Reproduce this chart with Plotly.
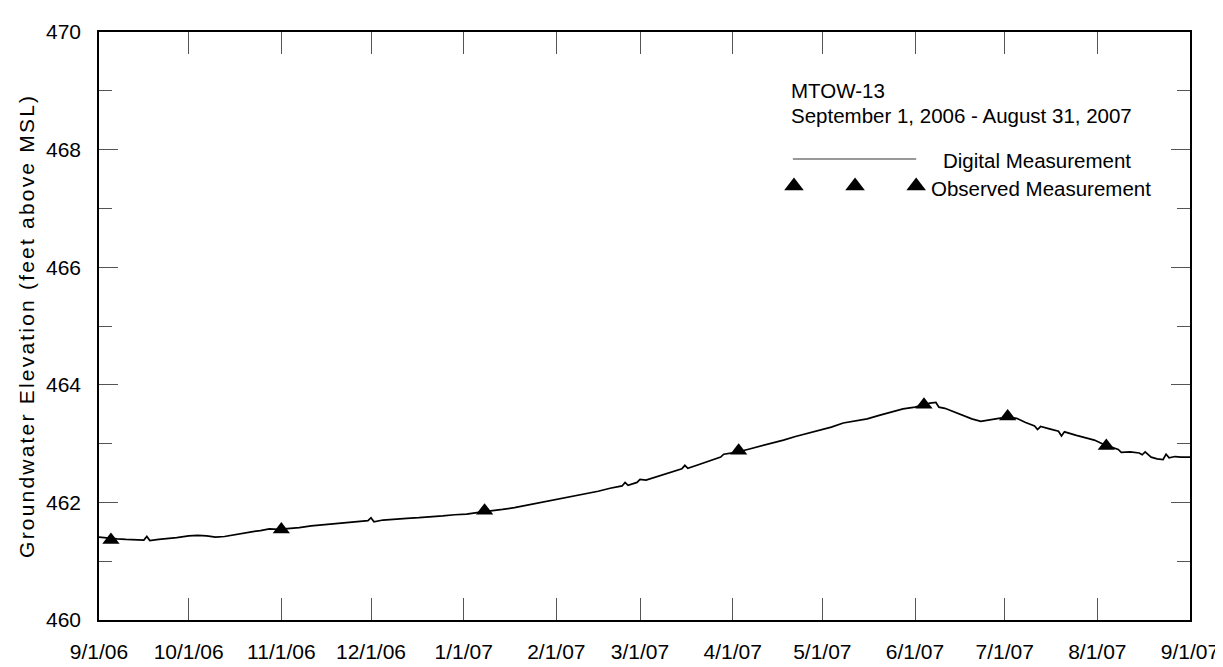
import plotly.graph_objects as go

digital_dates = [
    "2006-09-01", "2006-09-04", "2006-09-07", "2006-09-10", "2006-09-13", "2006-09-16",
    "2006-09-17", "2006-09-18", "2006-09-21", "2006-09-24", "2006-09-27", "2006-10-01",
    "2006-10-04", "2006-10-07", "2006-10-10", "2006-10-13", "2006-10-16", "2006-10-19",
    "2006-10-22", "2006-10-25", "2006-10-28", "2006-10-31", "2006-11-03", "2006-11-07",
    "2006-11-11", "2006-11-15", "2006-11-19", "2006-11-23", "2006-11-27", "2006-11-30",
    "2006-12-01", "2006-12-02", "2006-12-05", "2006-12-09", "2006-12-13", "2006-12-17",
    "2006-12-21", "2006-12-25", "2006-12-29", "2007-01-02", "2007-01-06", "2007-01-10",
    "2007-01-14", "2007-01-18", "2007-01-22", "2007-01-26", "2007-01-30", "2007-02-03",
    "2007-02-07", "2007-02-11", "2007-02-15", "2007-02-19", "2007-02-23", "2007-02-24",
    "2007-02-25", "2007-02-28", "2007-03-01", "2007-03-03", "2007-03-07", "2007-03-11",
    "2007-03-15", "2007-03-16", "2007-03-17", "2007-03-21", "2007-03-25", "2007-03-28",
    "2007-03-29", "2007-04-02", "2007-04-06", "2007-04-10", "2007-04-14", "2007-04-18",
    "2007-04-22", "2007-04-26", "2007-04-30", "2007-05-04", "2007-05-08", "2007-05-12",
    "2007-05-16", "2007-05-20", "2007-05-24", "2007-05-28", "2007-06-01", "2007-06-04",
    "2007-06-06", "2007-06-08", "2007-06-09", "2007-06-11", "2007-06-14", "2007-06-17",
    "2007-06-20", "2007-06-23", "2007-06-26", "2007-06-29", "2007-07-02", "2007-07-05",
    "2007-07-08", "2007-07-11", "2007-07-12", "2007-07-13", "2007-07-16", "2007-07-19",
    "2007-07-20", "2007-07-21", "2007-07-25", "2007-07-28", "2007-07-31", "2007-08-03",
    "2007-08-06", "2007-08-08", "2007-08-09", "2007-08-12", "2007-08-15", "2007-08-16",
    "2007-08-17", "2007-08-19", "2007-08-21", "2007-08-23", "2007-08-24", "2007-08-25",
    "2007-08-27", "2007-08-29", "2007-09-01",
]
digital_values = [
    461.41, 461.39, 461.38, 461.37, 461.37, 461.36,
    461.42, 461.35, 461.37, 461.38, 461.40, 461.43,
    461.44, 461.43, 461.41, 461.42, 461.45, 461.48,
    461.50, 461.52, 461.55, 461.54, 461.55, 461.57,
    461.60, 461.62, 461.64, 461.65, 461.67, 461.69,
    461.74, 461.67, 461.70, 461.72, 461.73, 461.74,
    461.75, 461.77, 461.79, 461.80, 461.83, 461.85,
    461.88, 461.91, 461.95, 461.99, 462.03, 462.06,
    462.10, 462.14, 462.19, 462.24, 462.28, 462.34,
    462.29, 462.34, 462.39, 462.38, 462.44, 462.51,
    462.57, 462.63, 462.58, 462.65, 462.72, 462.77,
    462.82, 462.85, 462.90, 462.95, 463.00, 463.06,
    463.12, 463.17, 463.23, 463.28, 463.35, 463.39,
    463.42, 463.48, 463.54, 463.59, 463.62, 463.66,
    463.69, 463.70, 463.62, 463.60, 463.54, 463.48,
    463.42, 463.38, 463.41, 463.43, 463.45, 463.43,
    463.36, 463.30, 463.24, 463.29, 463.25, 463.21,
    463.13, 463.20, 463.14, 463.10, 463.06, 462.99,
    462.94, 462.90, 462.85, 462.86, 462.84, 462.81,
    462.86, 462.77, 462.74, 462.73, 462.82, 462.76,
    462.78, 462.77, 462.77,
]

# Observed (manual) measurements
observed_dates = ["2006-09-05", "2006-11-01", "2007-01-08", "2007-04-03",
                  "2007-06-04", "2007-07-02", "2007-08-04"]
observed_values = [461.36, 461.54, 461.86, 462.88, 463.66, 463.46, 462.96]

# Axis settings
x_start, x_end = "2006-09-01", "2007-09-01"
y_min, y_max = 460, 470
y_tickvals = [460, 462, 464, 466, 468, 470]

FONT = "Liberation Sans, Arial, sans-serif"

fig = go.Figure()

fig.add_trace(go.Scatter(
    x=digital_dates, y=digital_values, mode="lines",
    line=dict(color="black", width=1.7), showlegend=False,
))
fig.add_trace(go.Scatter(
    x=observed_dates, y=observed_values, mode="markers",
    marker=dict(symbol="triangle-up", size=15, color="black"),
    showlegend=False,
))

# Legend key marks on an overlay axis spanning the plot area (0..1)
fig.add_trace(go.Scatter(
    x=[0.637, 0.693, 0.749], y=[0.738, 0.738, 0.738], mode="markers",
    marker=dict(symbol="triangle-up", size=17, color="black"),
    xaxis="x2", yaxis="y2", showlegend=False, hoverinfo="skip",
))
fig.add_trace(go.Scatter(
    x=[0.636, 0.749], y=[0.784, 0.784], mode="lines",
    line=dict(color="#333", width=1),
    xaxis="x2", yaxis="y2", showlegend=False, hoverinfo="skip",
))

ytitle = '<span style="letter-spacing:2.2px">Groundwater Elevation (feet above MSL)</span>'

fig.update_layout(
    width=1223, height=667,
    margin=dict(l=91, r=39, t=17, b=45),
    paper_bgcolor="white", plot_bgcolor="white",
    font=dict(family=FONT, size=21, color="black"),
    xaxis=dict(
        type="date", range=[x_start, x_end],
        tick0=x_start, dtick="M1", tickformat="%-m/%-d/%y",
        ticks="inside", ticklen=22, tickwidth=1, tickcolor="#555",
        showline=True, linecolor="black", linewidth=1.5, mirror="ticks",
        showgrid=False, zeroline=False, ticklabelstandoff=12,
        tickfont=dict(size=21),
    ),
    yaxis=dict(
        range=[y_min, y_max], tickvals=y_tickvals,
        ticks="inside", ticklen=19, tickwidth=1, tickcolor="#555",
        minor=dict(dtick=1, ticks="inside", ticklen=13, tickcolor="#555", tickwidth=1),
        showline=True, linecolor="black", linewidth=1.5, mirror="ticks",
        showgrid=False, zeroline=False, ticklabelstandoff=12,
        tickfont=dict(size=21),
    ),
    xaxis2=dict(overlaying="x", range=[0, 1], visible=False, fixedrange=True),
    yaxis2=dict(overlaying="y", range=[0, 1], visible=False, fixedrange=True),
    annotations=[
        dict(text=ytitle, xref="paper", yref="paper",
             x=-0.067, y=0.5, textangle=-90, showarrow=False,
             xanchor="center", yanchor="middle", font=dict(size=21)),
        dict(text="MTOW-13", xref="paper", yref="paper", x=0.632, y=0.901,
             xanchor="left", yanchor="middle", showarrow=False, font=dict(size=20.5)),
        dict(text="September 1, 2006 - August 31, 2007", xref="paper", yref="paper",
             x=0.632, y=0.858, xanchor="left", yanchor="middle", showarrow=False,
             font=dict(size=20.5)),
        dict(text="Digital Measurement", xref="paper", yref="paper", x=0.772, y=0.781,
             xanchor="left", yanchor="middle", showarrow=False, font=dict(size=20.5)),
        dict(text="Observed Measurement", xref="paper", yref="paper", x=0.761, y=0.734,
             xanchor="left", yanchor="middle", showarrow=False, font=dict(size=20.5)),
    ],
)

fig.write_html("out.html")
